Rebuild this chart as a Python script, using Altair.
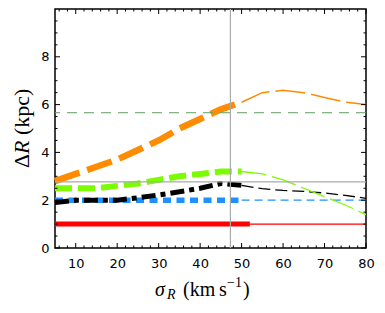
import altair as alt
import pandas as pd

# ---- data ----
sigma = [5, 10, 15, 20, 25, 30, 35, 40, 45, 50, 55, 60, 65, 70, 75, 80]
orange = [2.8, 3.1, 3.4, 3.7, 4.1, 4.5, 5.0, 5.4, 5.8, 6.1, 6.5, 6.6, 6.5, 6.3, 6.1, 6.0]
green = [2.5, 2.5, 2.5, 2.6, 2.7, 2.85, 3.0, 3.1, 3.2, 3.2, 3.1, 2.85, 2.5, 2.15, 1.8, 1.4]
black = [1.9, 2.0, 2.0, 2.0, 2.1, 2.22, 2.35, 2.5, 2.7, 2.62, 2.48, 2.41, 2.37, 2.3, 2.2, 2.08]
blue = [2.0, 2.0, 2.0, 2.0, 2.0, 2.0, 2.0, 2.0, 2.0, 2.0, 2.0, 2.0, 2.0, 2.0, 2.0, 2.0]
red_x = [5, 52, 80]
red_y = [1.0, 1.0, 1.0]
split = 50          # thick part up to here
red_split = 52

ref_h_gray = 2.77
ref_v_gray = 47.3
ref_h_green = 5.66

x_labels = [10, 20, 30, 40, 50, 60, 70, 80]
y_labels = [0, 2, 4, 6, 8]
x_minor = [6, 8, 12, 14, 16, 18, 22, 24, 26, 28, 32, 34, 36, 38, 42, 44, 46, 48,
           52, 54, 56, 58, 62, 64, 66, 68, 72, 74, 76, 78]
y_minor = [0.5, 1, 1.5, 2.5, 3, 3.5, 4.5, 5, 5.5, 6.5, 7, 7.5, 8.5, 9, 9.5]

W, H = 311, 239
xs = alt.Scale(domain=[5, 80], nice=False, zero=False)
ys = alt.Scale(domain=[0, 10], nice=False, zero=False)
XAX = alt.Axis(values=x_labels, title=None, ticks=False, domain=False, grid=False, labelFlush=False,
               labelFont="DejaVu Sans", labelFontSize=13, labelColor="black", labelPadding=9)
YAX = alt.Axis(values=y_labels, title=None, ticks=False, domain=False, grid=False, labelFlush=False,
               labelFont="DejaVu Sans", labelFontSize=13, labelColor="black", labelPadding=6)


def X(f="x"):
    return alt.X(f + ":Q", scale=xs, axis=XAX)


def Y(f="y"):
    return alt.Y(f + ":Q", scale=ys, axis=YAX)


def seg(xv, yv, lo, hi):
    return pd.DataFrame([(a, b) for a, b in zip(xv, yv) if lo <= a <= hi], columns=["x", "y"])


def line(df, color, width, dash=None):
    kw = dict(color=color, strokeWidth=width)
    if dash:
        kw["strokeDash"] = dash
    return alt.Chart(df).mark_line(**kw).encode(x=X(), y=Y())


layers = []
# thin continuation parts
layers.append(line(seg(red_x, red_y, red_split, 80), "#ff0000", 1.3))
layers.append(line(seg(sigma, blue, split, 80), "#1e90ff", 1.3, [8, 5]))
layers.append(line(seg(sigma, black, split, 80), "black", 1.3, [12, 5]))
layers.append(line(seg(sigma, green, split, 80), "#7cfc00", 1.3, [25, 6]))
layers.append(line(seg(sigma, orange, split, 80), "#ff8c00", 1.5, [30, 6]))
# thick parts
layers.append(line(seg(red_x, red_y, 5, red_split), "#ff0000", 5))
layers.append(line(seg(sigma, blue, 5, split), "#1e90ff", 5.5, [8, 5.5]))
layers.append(line(seg(sigma, black, 5, split), "black", 5, [14, 5, 5, 5]))
layers.append(line(seg(sigma, green, 5, split), "#7cfc00", 6, [17, 6]))
layers.append(line(seg(sigma, orange, 5, split), "#ff8c00", 6.5, [26, 8]))

# reference lines
layers.append(alt.Chart(pd.DataFrame({"y": [ref_h_green]})).mark_rule(
    color="#5f9f5f", strokeWidth=1, strokeDash=[10, 7]).encode(y=Y()))
layers.append(alt.Chart(pd.DataFrame({"y": [ref_h_gray]})).mark_rule(
    color="#aaaaaa", strokeWidth=1.2).encode(y=Y()))
layers.append(alt.Chart(pd.DataFrame({"x": [ref_v_gray]})).mark_rule(
    color="#aaaaaa", strokeWidth=1.2).encode(x=X()))


# inward ticks on all four sides
def xticks(vals, L):
    d = pd.DataFrame({"x": vals})
    bot = alt.Chart(d).mark_rule(color="black", strokeWidth=1).encode(
        x=X(), y=alt.value(H), y2=alt.value(H - L))
    top = alt.Chart(d).mark_rule(color="black", strokeWidth=1).encode(
        x=X(), y=alt.value(0), y2=alt.value(L))
    return [bot, top]


def yticks(vals, L):
    d = pd.DataFrame({"y": vals})
    lef = alt.Chart(d).mark_rule(color="black", strokeWidth=1).encode(
        y=Y(), x=alt.value(0), x2=alt.value(L))
    rig = alt.Chart(d).mark_rule(color="black", strokeWidth=1).encode(
        y=Y(), x=alt.value(W), x2=alt.value(W - L))
    return [lef, rig]


layers += xticks(x_labels, 5) + xticks(x_minor, 2.5)
layers += yticks(y_labels, 5) + yticks(y_minor, 2.5)

# axis titles as text pieces (serif, italic symbols)
SERIF = "Liberation Serif"


def txt(s, x, y, size, style="normal", angle=0, dy=0):
    kw = dict(text=s, font=SERIF, fontSize=size, fontStyle=style, align="left",
              baseline="middle", color="black", dy=dy)
    if angle:
        kw["angle"] = angle
    return alt.Chart(pd.DataFrame({"a": [0]})).mark_text(**kw).encode(
        x=alt.value(x), y=alt.value(y))


layers += [
    txt("σ", 100, 281, 20, "italic"),
    txt("R", 112, 286, 14, "italic"),
    txt("(km", 128, 281, 20),
    txt("s", 164, 281, 20),
    txt("−1", 172, 274, 14),
    txt(")", 188, 281, 20),
    txt("Δ", -33, 159, 22, angle=270),
    txt("R", -33, 145, 22, "italic", angle=270),
    txt("(kpc)", -33, 126, 22, angle=270),
]

chart = alt.layer(*layers).properties(
    width=W, height=H,
    autosize=alt.AutoSizeParams(type="none"),
    padding={"left": 47, "top": 1, "right": 10, "bottom": 62},
).configure_view(stroke="black", strokeWidth=1.5)

chart.save("out.html", embed_options={"renderer": "svg", "actions": False})
